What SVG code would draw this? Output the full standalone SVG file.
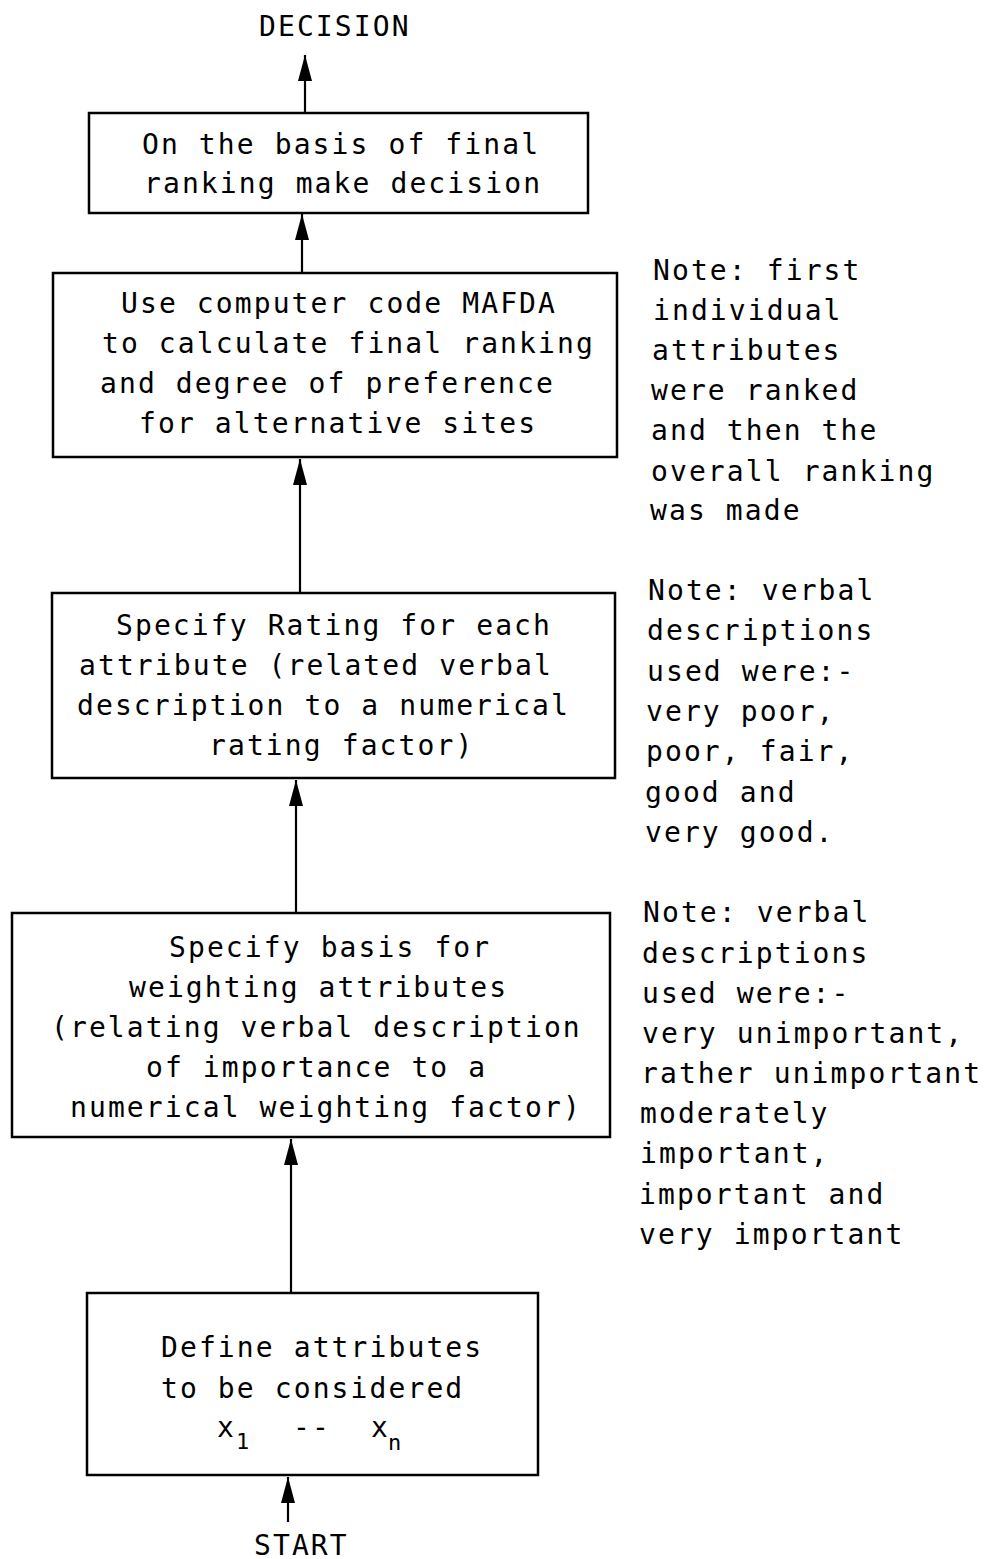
<svg xmlns="http://www.w3.org/2000/svg" width="986" height="1559" viewBox="0 0 986 1559">
<style>
  .t { font-family: "DejaVu Sans Mono", "Liberation Mono", monospace; font-size: 28px; letter-spacing: 2.1px; fill: #000; }
  .sub { font-family: "DejaVu Sans Mono", "Liberation Mono", monospace; font-size: 22px; fill: #000; }
  .box { fill: #fff; stroke: #000; stroke-width: 2.5; }
  .conn { stroke: #000; stroke-width: 2.2; fill: none; marker-end: url(#ah); }
</style>
<defs>
  <marker id="ah" viewBox="0 0 26 14" refX="26" refY="7" markerWidth="26" markerHeight="14" markerUnits="userSpaceOnUse" orient="auto">
    <path d="M0,0 L26,7 L0,14 z" fill="#000"/>
  </marker>
</defs>
<rect width="986" height="1559" fill="#fff"/>

<g id="connectors">
  <line class="conn" x1="305" y1="113" x2="305" y2="55"/>
  <line class="conn" x1="302" y1="272" x2="302" y2="214"/>
  <line class="conn" x1="300" y1="593" x2="300" y2="459"/>
  <line class="conn" x1="296" y1="913" x2="296" y2="780"/>
  <line class="conn" x1="291" y1="1293" x2="291" y2="1139"/>
  <line class="conn" x1="288" y1="1522" x2="288" y2="1477"/>
</g>

<g id="decision">
  <text class="t" x="259" y="36">DECISION</text>
</g>

<g id="box-final">
  <rect class="box" x="89" y="113" width="499" height="100"/>
  <text class="t" x="142" y="154">On the basis of final</text>
  <text class="t" x="144" y="193">ranking make decision</text>
</g>

<g id="box-mafda">
  <rect class="box" x="53" y="273" width="564" height="184"/>
  <text class="t" x="121" y="313">Use computer code MAFDA</text>
  <text class="t" x="102" y="353">to calculate final ranking</text>
  <text class="t" x="100" y="393">and degree of preference</text>
  <text class="t" x="139" y="433">for alternative sites</text>
</g>

<g id="box-rating">
  <rect class="box" x="52" y="593" width="563" height="185"/>
  <text class="t" x="116" y="635">Specify Rating for each</text>
  <text class="t" x="79" y="675">attribute (related verbal</text>
  <text class="t" x="77" y="715">description to a numerical</text>
  <text class="t" x="209" y="755">rating factor)</text>
</g>

<g id="box-weighting">
  <rect class="box" x="12" y="913" width="598" height="224"/>
  <text class="t" x="169" y="957">Specify basis for</text>
  <text class="t" x="129" y="997">weighting attributes</text>
  <text class="t" x="51" y="1037">(relating verbal description</text>
  <text class="t" x="146" y="1077">of importance to a</text>
  <text class="t" x="70" y="1117">numerical weighting factor)</text>
</g>

<g id="box-define">
  <rect class="box" x="87" y="1293" width="451" height="182"/>
  <text class="t" x="161" y="1357">Define attributes</text>
  <text class="t" x="161" y="1398">to be considered</text>
  <text class="t" x="217" y="1437">x</text>
  <text class="sub" x="236" y="1449">1</text>
  <text class="t" x="293" y="1437">--</text>
  <text class="t" x="371" y="1437">x</text>
  <text class="sub" x="388" y="1450">n</text>
</g>

<g id="start">
  <text class="t" x="254" y="1555">START</text>
</g>

<g id="note-ranking">
  <text class="t" x="653" y="280">Note: first</text>
  <text class="t" x="653" y="320">individual</text>
  <text class="t" x="652" y="360">attributes</text>
  <text class="t" x="651" y="400">were ranked</text>
  <text class="t" x="651" y="440">and then the</text>
  <text class="t" x="651" y="481">overall ranking</text>
  <text class="t" x="650" y="520">was made</text>
</g>

<g id="note-rating">
  <text class="t" x="648" y="600">Note: verbal</text>
  <text class="t" x="647" y="640">descriptions</text>
  <text class="t" x="647" y="681">used were:-</text>
  <text class="t" x="646" y="721">very poor,</text>
  <text class="t" x="646" y="761">poor, fair,</text>
  <text class="t" x="645" y="802">good and</text>
  <text class="t" x="645" y="842">very good.</text>
</g>

<g id="note-weighting">
  <text class="t" x="643" y="922">Note: verbal</text>
  <text class="t" x="642" y="963">descriptions</text>
  <text class="t" x="642" y="1003">used were:-</text>
  <text class="t" x="642" y="1043">very unimportant,</text>
  <text class="t" x="641" y="1083">rather unimportant</text>
  <text class="t" x="640" y="1123">moderately</text>
  <text class="t" x="640" y="1163">important,</text>
  <text class="t" x="639" y="1204">important and</text>
  <text class="t" x="639" y="1244">very important</text>
</g>
</svg>
